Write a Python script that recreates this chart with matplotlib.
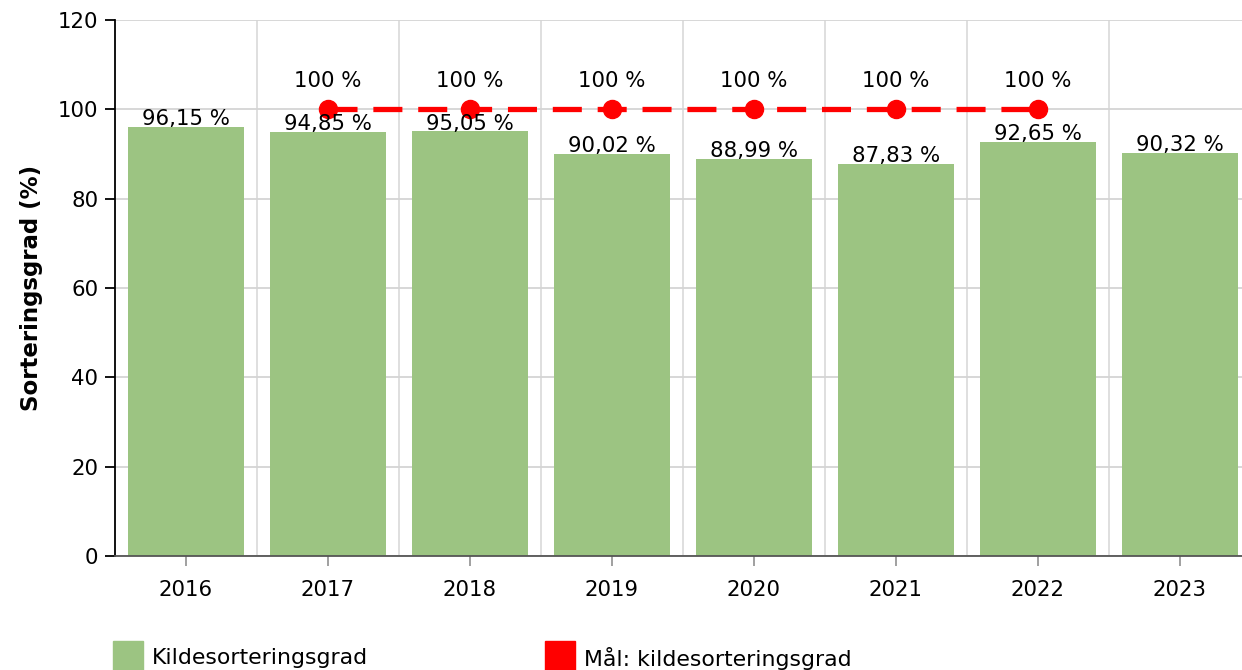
import numpy as np
import matplotlib.pyplot as plt
from matplotlib.patches import Rectangle

# ── data ─────────────────────────────────────────────────────────────────────
years = ["2016", "2017", "2018", "2019", "2020", "2021", "2022", "2023"]
sorting_rate = [96.15, 94.85, 95.05, 90.02, 88.99, 87.83, 92.65, 90.32]
target = [np.nan, 100, 100, 100, 100, 100, 100, np.nan]
bar_name = "Kildesorteringsgrad"
line_name = "Mål: kildesorteringsgrad"

GREEN = "#9cc482"
RED = "#ff0000"
FS = 15.3

plt.rcParams["font.family"] = ["DejaVu Sans"]

fig = plt.figure(figsize=(12.42, 6.70), dpi=100)
W, H = 1242, 670
# axes: left 115px, top 20px, bottom 556px, right beyond the edge
ax = fig.add_axes([115 / W, 1 - 556 / H, (1251 - 115) / W, (556 - 20) / H])

x = np.arange(len(years))
ax.bar(x, sorting_rate, width=0.82, color=GREEN, zorder=2)
for xi, v in zip(x, sorting_rate):
    ax.annotate(f"{v:.2f} %".replace(".", ","), (xi, v), xytext=(0, -1.5),
                textcoords="offset points", ha="center", va="bottom",
                fontsize=FS, zorder=4)

ax.plot(x, target, color=RED, lw=3.8, ls=(0, (5.5, 3)), marker="o",
        markersize=13, zorder=3)
for xi, v in zip(x, target):
    if not np.isnan(v):
        ax.annotate(f"{v:.0f} %", (xi, v), xytext=(0, 13),
                    textcoords="offset points", ha="center", va="bottom",
                    fontsize=FS, zorder=4)

ax.set_xlim(-0.5, len(years) - 0.5)
ax.set_ylim(0, 120)
ax.set_yticks(range(0, 121, 20))
ax.set_xticks(x)
ax.set_xticklabels(years)
ax.set_xticks(x[:-1] + 0.5, minor=True)

ax.grid(axis="y", color="#d4d4d4", lw=1.3, zorder=0)
ax.grid(axis="x", which="minor", color="#dcdcdc", lw=1.3, zorder=0)
ax.set_axisbelow(True)

for s in ["top", "right"]:
    ax.spines[s].set_visible(False)
ax.spines["left"].set_color("black")
ax.spines["left"].set_linewidth(1.3)
ax.spines["bottom"].set_color("#555555")
ax.spines["bottom"].set_linewidth(1.3)

ax.tick_params(axis="y", length=7, width=1.3, color="black", labelsize=FS, pad=5)
ax.tick_params(axis="x", which="major", length=7, width=1.3, color="#999999",
               labelsize=FS, pad=10)
ax.tick_params(axis="x", which="minor", length=0)

ax.set_ylabel("Sorteringsgrad (%)", fontsize=16.5, fontweight="bold", labelpad=11)

# ── legend (bottom, partly cut off) ──────────────────────────────────────────
for x0, col, name in [(113, GREEN, bar_name), (545, RED, line_name)]:
    fig.add_artist(Rectangle((x0 / W, 1 - 671 / H), 30 / W, 30 / H,
                             transform=fig.transFigure, color=col))
    fig.text((x0 + 39) / W, 1 - 658 / H, name, fontsize=15.8, va="center")

fig.savefig("out.png", dpi=100)
